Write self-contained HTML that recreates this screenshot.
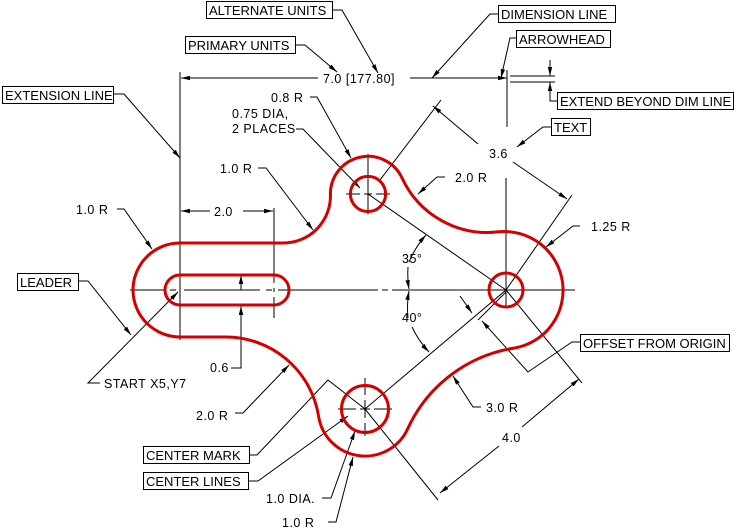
<!DOCTYPE html>
<html><head><meta charset="utf-8"><style>
html,body{margin:0;padding:0;background:#fff;}
svg{display:block;}
text{font-family:"Liberation Sans",sans-serif;fill:#000;}
.b{font-size:13px;}
.d{font-size:12.5px;letter-spacing:0.5px;}
</style></head><body>
<svg width="737" height="529" viewBox="0 0 737 529" xmlns="http://www.w3.org/2000/svg">
<defs>
<marker id="a" markerWidth="10" markerHeight="6" refX="9" refY="3" orient="auto" markerUnits="userSpaceOnUse">
<path d="M0,0.8 L9,3 L0,5.2 Z" fill="#000"/>
</marker>
</defs>
<g stroke="#000" stroke-width="1" fill="none">
<path d="M130,290 H166 M170,290 H176 M184,290 H260 M266,290 H272 M278,290 H378 M382,290 H388 M392,290 H575"/>
<path d="M180,72 V340"/>
<path d="M274,208 V283 M274,288 V292 M274,297 V318"/>
<path d="M507,70 V127 M506,178 V308"/>
<path d="M368,154 V214 M346,194 H360 M364,194 H372 M376,194 H390"/>
<path d="M365,378 V395 M365,400 V418 M365,423 V436 M338,409 H356 M360,409 H370 M374,409 H392"/>
<path d="M410,78 H507" marker-end="url(#a)"/>
<path d="M318,78 H181" marker-end="url(#a)"/>
<path d="M510,76 H555 M510,82 H555"/>
<path d="M550,60 V76" marker-end="url(#a)"/>
<path d="M550,100 V82" marker-end="url(#a)"/>
<path d="M557,101 H550 V100"/>
<path d="M332,10 H342 L378,73" marker-end="url(#a)"/>
<path d="M295,45 H305 L337,72" marker-end="url(#a)"/>
<path d="M498,14 H490 L432,78" marker-end="url(#a)"/>
<path d="M516,38 H510 L501,78" marker-end="url(#a)"/>
<path d="M551,127 H543 L517,147" marker-end="url(#a)"/>
<path d="M113,94 H124 L180,158" marker-end="url(#a)"/>
<path d="M78,281 H88 L131,335" marker-end="url(#a)"/>
<path d="M580,342 H572 L528,372 L482,321" marker-end="url(#a)"/>
<path d="M460,296 L472,313" marker-end="url(#a)"/>
<path d="M506,292 L478,320"/>
<path d="M249,455 H257 L328,380 L365,409"/>
<path d="M248,481 H258 L348,416" marker-end="url(#a)"/>
<path d="M322,498 H331 L355,431" marker-end="url(#a)"/>
<path d="M328,522 H336 L353,457" marker-end="url(#a)"/>
<path d="M235,413 H243 L289,365" marker-end="url(#a)"/>
<path d="M231,368 H241 V306" marker-end="url(#a)"/>
<path d="M241,290 V275" marker-end="url(#a)"/>
<path d="M100,383 H88 L178,292" marker-end="url(#a)"/>
<path d="M117,209 H124 L152,249" marker-end="url(#a)"/>
<path d="M258,168 H266 L313,230" marker-end="url(#a)"/>
<path d="M310,97 H317 L351,158" marker-end="url(#a)"/>
<path d="M296,129 H303 L360,188" marker-end="url(#a)"/>
<path d="M445,177 H437 L418,194" marker-end="url(#a)"/>
<path d="M580,226 H573 L546,247" marker-end="url(#a)"/>
<path d="M481,407 H473 L453,376" marker-end="url(#a)"/>
<path d="M210,211 H181" marker-end="url(#a)"/>
<path d="M243,211 H273" marker-end="url(#a)"/>
<path d="M368,194 L506,290 L365,409"/>
<path d="M380,180 L441,100 M506,290 L572,195"/>
<path d="M478,144 L433,106" marker-end="url(#a)"/>
<path d="M513,162 L567,199" marker-end="url(#a)"/>
<path d="M506,290 L582,383 M365,409 L438,500"/>
<path d="M499,446 L440,493" marker-end="url(#a)"/>
<path d="M522,427 L579,379" marker-end="url(#a)"/>
<path d="M409,262 A97,97 0 0 1 426,235" marker-end="url(#a)"/>
<path d="M408,267 A97,97 0 0 0 409,289" marker-end="url(#a)"/>
<path d="M408,318 A97,97 0 0 1 409,291" marker-end="url(#a)"/>
<path d="M412,327 A97,97 0 0 0 429,352" marker-end="url(#a)"/>
<rect x="206.5" y="1.5" width="126" height="17"/>
<rect x="185.5" y="36.5" width="110" height="17"/>
<rect x="498.5" y="5.5" width="117" height="17"/>
<rect x="516.5" y="30.5" width="94" height="17"/>
<rect x="557.5" y="92.5" width="176" height="17"/>
<rect x="551.5" y="118.5" width="39" height="17"/>
<rect x="2.5" y="86.5" width="111" height="17"/>
<rect x="17.5" y="273.5" width="61" height="17"/>
<rect x="580.5" y="334.5" width="149" height="17"/>
<rect x="143.5" y="446.5" width="106" height="17"/>
<rect x="143.5" y="472.5" width="105" height="17"/>
</g>
<g stroke="#d40000" stroke-width="3" fill="none">
<path d="M180,243 L283,243 A47,47 0 0 0 330.4,194 A37.6,37.6 0 0 1 402.1,178.1 A94,94 0 0 0 498.8,231.8 A58.7,58.7 0 0 1 514.8,348 A141,141 0 0 0 407.8,428.6 A47,47 0 0 1 318.6,416.3 A94,94 0 0 0 225.7,337 L180,337 A47,47 0 0 1 180,243 Z"/>
<path d="M180,275 L274,275 A15,15 0 0 1 274,305 L180,305 A15,15 0 0 1 180,275 Z"/>
<circle cx="368" cy="194" r="17.6"/>
<circle cx="506" cy="290" r="17"/>
<circle cx="365" cy="409" r="23.5"/>
</g>
<g class="b">
<text x="209" y="15">ALTERNATE UNITS</text>
<text x="188" y="50">PRIMARY UNITS</text>
<text x="501" y="19">DIMENSION LINE</text>
<text x="519" y="44">ARROWHEAD</text>
<text x="560" y="106">EXTEND BEYOND DIM LINE</text>
<text x="554" y="132">TEXT</text>
<text x="5" y="100">EXTENSION LINE</text>
<text x="20" y="287">LEADER</text>
<text x="583" y="348">OFFSET FROM ORIGIN</text>
<text x="146" y="460">CENTER MARK</text>
<text x="146" y="486">CENTER LINES</text>
</g>
<g class="d">
<text x="323" y="83">7.0 [177.80]</text>
<text x="271" y="102">0.8 R</text>
<text x="232" y="118">0.75 DIA,</text>
<text x="232" y="133">2 PLACES</text>
<text x="220" y="173">1.0 R</text>
<text x="76" y="214">1.0 R</text>
<text x="214" y="216">2.0</text>
<text x="455" y="182">2.0 R</text>
<text x="489" y="158">3.6</text>
<text x="591" y="231">1.25 R</text>
<text x="402" y="263">35°</text>
<text x="402" y="322">40°</text>
<text x="210" y="372">0.6</text>
<text x="104" y="388">START X5,Y7</text>
<text x="196" y="420">2.0 R</text>
<text x="486" y="412">3.0 R</text>
<text x="502" y="442">4.0</text>
<text x="266" y="503">1.0 DIA.</text>
<text x="282" y="527">1.0 R</text>
</g>
</svg>
</body></html>
